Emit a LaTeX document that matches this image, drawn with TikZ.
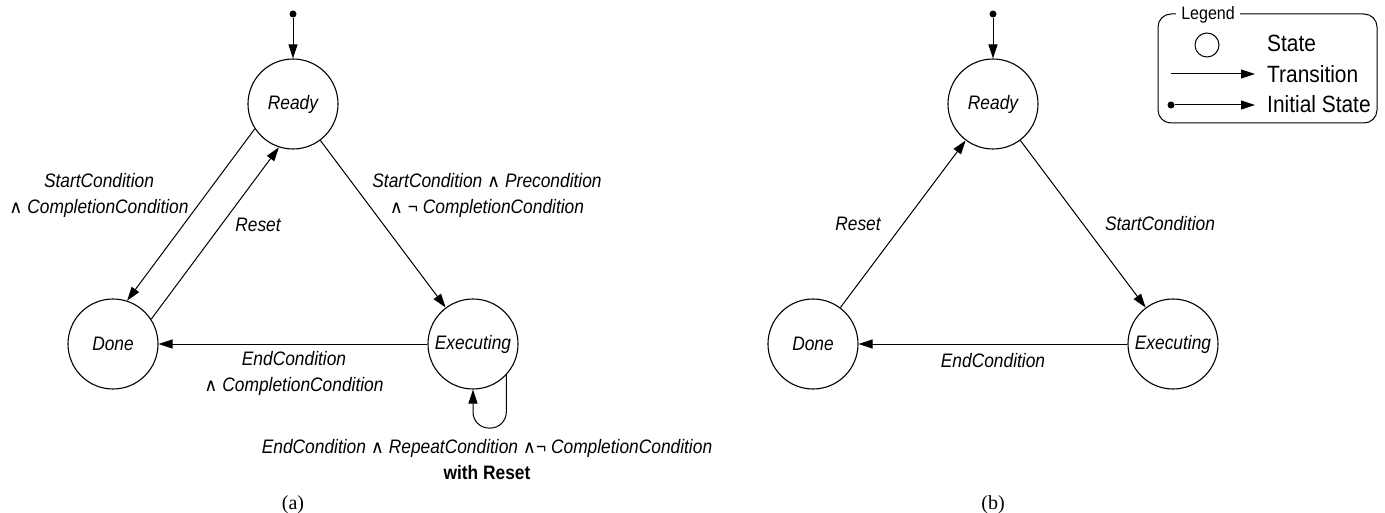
\documentclass[tikz,border=0pt]{standalone}
\usepackage{fontspec}
\setmainfont{Liberation Sans}[FakeStretch=0.89]
\newfontfamily\capfont{Liberation Serif}
\newfontfamily\symfont{DejaVu Sans}
\usetikzlibrary{arrows.meta}
\newcommand\wedgesym{{\upshape\symfont\fontsize{18}{20}\selectfont ∧}}
\begin{document}
\begin{tikzpicture}[x=1pt,y=-1pt,
  font=\fontsize{19.5}{26}\selectfont\itshape,
  state/.style={circle,draw,line width=1.1pt,minimum size=90pt,inner sep=0pt},
  trans/.style={line width=1pt,-{Triangle[length=14pt,width=9pt]}},
  lbl/.style={align=center,inner sep=0pt},
  startdot/.style={circle,fill,inner sep=0pt,minimum size=7pt},
  legtext/.style={anchor=base west,inner sep=0pt,font=\fontsize{23.5}{26}\selectfont\upshape},
  sublabel/.style={font=\fontsize{20}{22}\selectfont\capfont\upshape}]
\useasboundingbox (0,0) rectangle (1385,513);

% ---------- (a) ----------
\node[state] (Ra) at (293,104) {Ready};
\node[state] (Da) at (113,344) {Done};
\node[state] (Ea) at (473,344) {Executing};
\node[startdot] (ia) at (293,14) {};

\draw[trans] (ia) -- (Ra);
\draw[trans] (Ra.213.66) -- (Da.72.6);
\draw[trans] (Da.33.66) -- (Ra.252.6);
\draw[trans] (Ra) -- (Ea);
\draw[trans] (Ea) -- (Da);
\draw[trans,rounded corners=16pt] (Ea.-43) -- ++(0,53) -| (Ea.south);

\node[lbl] at (99,195) {StartCondition\\\wedgesym{} CompletionCondition};
\node[lbl] at (258,225) {Reset};
\node[lbl] at (487,195) {StartCondition \wedgesym{} Precondition\\\wedgesym{} {\upshape¬} CompletionCondition};
\node[lbl] at (294,373) {EndCondition\\\wedgesym{} CompletionCondition};
\node[lbl] at (487,460) {EndCondition \wedgesym{} RepeatCondition \wedgesym{\upshape¬} CompletionCondition\\\upshape\bfseries with Reset};
\node[sublabel] at (293,505) {(a)};

% ---------- (b) ----------
\node[state] (Rb) at (993,104) {Ready};
\node[state] (Db) at (813,344) {Done};
\node[state] (Eb) at (1173,344) {Executing};
\node[startdot] (ib) at (993,14) {};

\draw[trans] (ib) -- (Rb);
\draw[trans] (Db) -- (Rb);
\draw[trans] (Rb) -- (Eb);
\draw[trans] (Eb) -- (Db);

\node[lbl] at (858,224) {Reset};
\node[lbl] at (1160,224) {StartCondition};
\node[lbl] at (993,361) {EndCondition};
\node[sublabel] at (993,505) {(b)};

% ---------- legend ----------
\draw[line width=1pt,rounded corners=13pt] (1158,14) rectangle (1377,123);
\node[fill=white,inner xsep=5pt,inner ysep=1pt,font=\fontsize{18}{20}\selectfont\upshape] at (1208,15) {Legend};
\node[circle,draw,line width=1pt,minimum size=24pt,inner sep=0pt] (lc) at (1207,45) {};
\coordinate (t1) at (1171,74);
\coordinate (t2) at (1255,74);
\draw[trans] (t1) -- (t2);
\node[startdot] (l1) at (1171,105) {};
\coordinate (l2) at (1255,105);
\draw[trans] (l1) -- (l2);
\node[legtext] at (1267,52) {State};
\node[legtext] at (1267,83) {Transition};
\node[legtext] at (1267,113) {Initial State};
\end{tikzpicture}
\end{document}
